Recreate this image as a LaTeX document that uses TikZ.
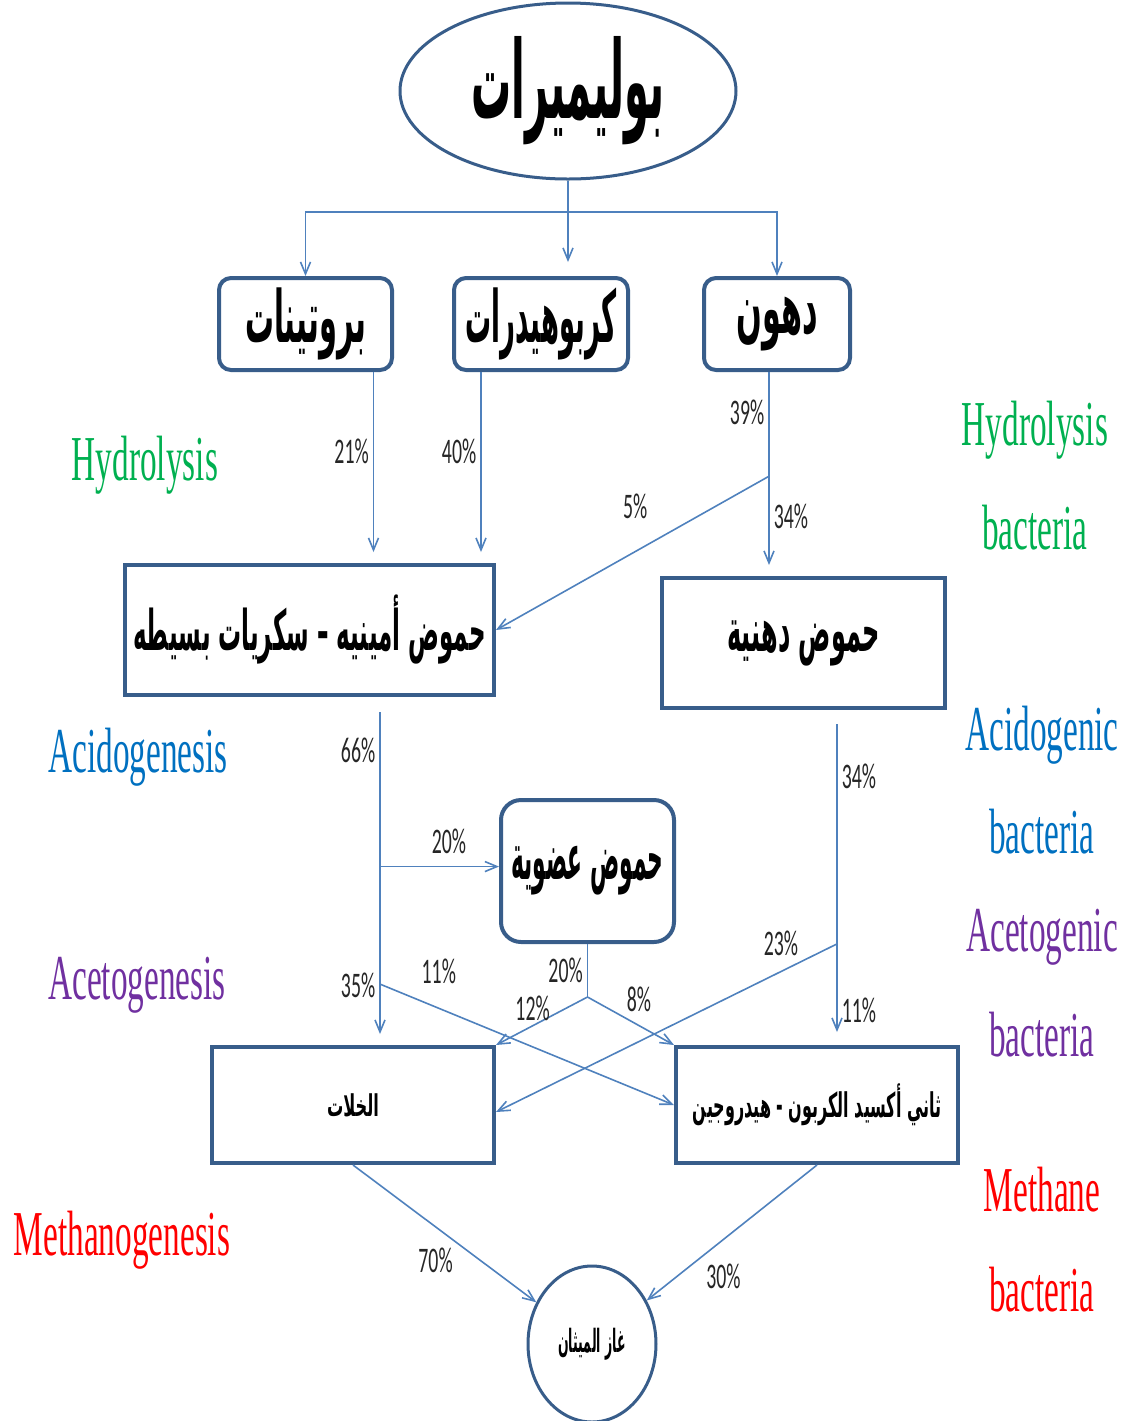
\documentclass[tikz,border=0pt]{standalone}
\usepackage{fontspec}
\usepackage{tikz}
\usetikzlibrary{arrows.meta,calc,positioning,shapes.geometric}
\TeXXeTstate=1
\newfontfamily\arabicfont[Script=Arabic]{DejaVu Sans}
\newfontfamily\phasefont[FakeStretch=0.52]{Liberation Serif}
\newfontfamily\pctfont[FakeStretch=0.55]{Carlito}
% size, stretch
\newcommand\arfont[2]{\fontsize{#1}{#1}\arabicfont\bfseries\addfontfeature{FakeStretch=#2}}
\definecolor{Frame}{HTML}{385D8A}
\definecolor{Wire}{HTML}{4F81BD}
\definecolor{Ink}{HTML}{262626}
\definecolor{Hyd}{HTML}{00B050}
\definecolor{Acid}{HTML}{0070C0}
\definecolor{Acet}{HTML}{7030A0}
\definecolor{Meth}{HTML}{FF0000}
\tikzset{stagebox/.style={draw=Frame,line width=2pt,fill=white,inner sep=0pt,align=center},roundbox/.style={stagebox,rounded corners=6pt},wire/.style={draw=Wire,line width=.8pt},flow/.style={wire,-{Straight Barb[length=6pt,width=5pt]}},pct/.style={font=\pctfont\fontsize{18}{20}\selectfont,text=Ink,inner sep=2pt},phase/.style={font=\phasefont\fontsize{32}{36}\selectfont}}

\begin{document}
\begin{tikzpicture}[x=.5pt,y=-.5pt]
      \useasboundingbox (0,0) rectangle (1133,1421);
      % substrates
      \node[stagebox,ellipse,line width=1.5pt,minimum width=168pt,minimum height=88pt](poly) at (568,91){\arfont{54}{.37}\beginR بوليميرات\endR};
      \node[roundbox,minimum width=86.5pt,minimum height=46pt](prot) at (305.5,324){\arfont{36}{.40}\beginR بروتينات\endR};
      \node[roundbox,minimum width=87pt,minimum height=46pt](carb) at (541,324){\arfont{36}{.36}\beginR كربوهيدرات\endR};
      \node[roundbox,minimum width=73pt,minimum height=46pt](fat) at (777,324){\arfont{36}{.42}\beginR دهون\endR};
      \coordinate (hub) at (568,212);
      \draw[wire](poly.south)--(hub);
      \draw[flow](hub)-|(prot.north);
      \draw[flow](hub)-|(fat.north);
      \draw[flow,shorten >=7pt](hub)--(hub|-carb.north);
      % products of hydrolysis
      \node[stagebox,minimum width=184.5pt,minimum height=65pt](amino) at (309.5,630){\arfont{28}{.41}\beginR حموض أمينيه – سكريات بسيطه\endR};
      \node[stagebox,minimum width=141.5pt,minimum height=65pt](fatty) at (803.5,643){\arfont{30}{.40}\beginR حموض دهنية\endR};
      \draw[flow]([xshift=34pt]prot.south)--++(0,180)node[pct,pos=.44,left]{21\%};
      \draw[flow]([xshift=-30pt]carb.south)--++(0,180)node[pct,pos=.44,left]{40\%};
      \draw[flow]([xshift=-4pt]fat.south)--++(0,193)node[pct,pos=.21,left]{39\%}node[pct,pos=.75,right]{34\%}coordinate[pos=.54](fatfork);
      \draw[flow](fatfork)--(amino.east)node[pct,pos=.49,above=14pt]{5\%};
      % acids
      \node[roundbox,rounded corners=10pt,minimum width=86.5pt,minimum height=71pt](organic) at (587.5,871){\arfont{32}{.34}\beginR حموض عضوية\endR};
      \node[stagebox,minimum width=141pt,minimum height=58pt](acetate) at (353,1105){\arfont{15}{.54}\beginR الخلات\endR};
      \node[stagebox,minimum width=141pt,minimum height=58pt](co2) at (817,1105){\arfont{17}{.47}\beginR ثاني أكسيد الكربون - هيدروجين\endR};
      \draw[flow]([xshift=35.25pt,yshift=-7.5pt]amino.south)--++(0,322)node[pct,pos=.12,left]{66\%}node[pct,pos=.85,left]{35\%}coordinate[pos=.48](amfork)coordinate[pos=.845](amfork2);
      \draw[flow](amfork)--(amfork-|organic.west)node[pct,pos=.58,above=4pt]{20\%};
      \draw[flow](amfork2)--(co2.west)node[pct,pos=.2,above=10pt]{11\%};
      \draw[wire](organic.south)--++(0,53)coordinate(orgfork)node[pct,midway,left]{20\%};
      \draw[flow](orgfork)--(acetate.north east)node[pct,pos=.6,above]{12\%};
      \draw[flow](orgfork)--(co2.north west)node[pct,pos=.4,above right]{8\%};
      \draw[flow]([xshift=16.75pt,yshift=-7pt]fatty.south)--++(0,308)node[pct,pos=.17,right]{34\%}node[pct,pos=.93,right]{11\%}coordinate[pos=.714](fatfork2);
      \draw[flow](fatfork2)--([yshift=-3.5pt]acetate.east)node[pct,pos=.1,above left]{23\%};
      % methane
      \node[stagebox,ellipse,line width=1.5pt,minimum width=64pt,minimum height=78pt](gas) at (592,1344){\arfont{16}{.39}\beginR غاز الميثان\endR};
      \draw[flow](acetate.south)--(gas)node[pct,pos=.57,below left]{70\%};
      \draw[flow](co2.south)--(gas)node[pct,pos=.55,below=10pt]{30\%};
      % stages and bacteria
      \node[phase,text=Hyd](hydro) at (145,465){Hydrolysis};
      \node[phase,text=Acid](acido) at (138,757){Acidogenesis};
      \node[phase,text=Acet](aceto) at (137,985){Acetogenesis};
      \node[phase,text=Meth](metha) at (122,1240){Methanogenesis};
      \node[phase,text=Hyd](hydrob) at (1035,430){Hydrolysis};
      \node[phase,text=Hyd](hydrob2) at (1035,528){bacteria};
      \node[phase,text=Acid](acidob) at (1042,735){Acidogenic};
      \node[phase,text=Acid](acidob2) at (1042,832){bacteria};
      \node[phase,text=Acet](acetob) at (1042,937){Acetogenic};
      \node[phase,text=Acet](acetob2) at (1042,1035){bacteria};
      \node[phase,text=Meth](methab) at (1042,1190){Methane};
      \node[phase,text=Meth](methab2) at (1042,1290){bacteria};
    \end{tikzpicture}
\end{document}
